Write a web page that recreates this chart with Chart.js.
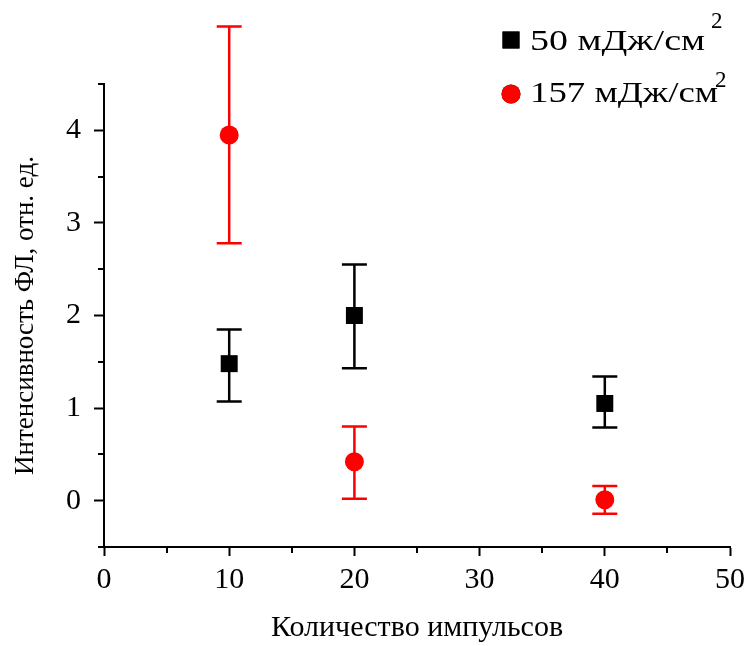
<!DOCTYPE html>
<html>
<head>
<meta charset="utf-8">
<script src="https://cdn.jsdelivr.net/npm/chart.js@4.4.0/dist/chart.umd.min.js"></script>
<style>
  html, body { margin: 0; padding: 0; background: #fff; }
</style>
</head>
<body>
<canvas id="fluChart" width="752" height="646"></canvas>
<script>
// number of pulses
const pulses = [10, 20, 40];

// 50 mJ/cm2 series
const lowVals = [1.48, 2.00, 1.05];
const lowErrMin = [1.07, 1.43, 0.79];
const lowErrMax = [1.85, 2.55, 1.34];

// 157 mJ/cm2 series
const highVals = [3.95, 0.42, 0.01];
const highErrMin = [2.78, 0.02, -0.14];
const highErrMax = [5.12, 0.80, 0.16];

const seriesLabels = ['50 мДж/см', '157 мДж/см'];

const xTicks = [0, 10, 20, 30, 40, 50];
const xMinor = [5, 15, 25, 35, 45];
const yTicks = [0, 1, 2, 3, 4];
const yMinor = [-0.5, 0.5, 1.5, 2.5, 3.5, 4.5];

function toPoints(vals, lo, hi) {
  return pulses.map((x, i) => ({ x: x, y: vals[i], yMin: lo[i], yMax: hi[i] }));
}

// error bars drawn under the markers
const errorBars = {
  id: 'errorBars',
  beforeDatasetsDraw(chart) {
    const ctx = chart.ctx;
    const xs = chart.scales.x, ys = chart.scales.y;
    chart.data.datasets.forEach(ds => {
      ctx.save();
      ctx.strokeStyle = ds.borderColor;
      ctx.lineWidth = 2.5;
      ds.data.forEach(p => {
        const px = xs.getPixelForValue(p.x);
        const top = ys.getPixelForValue(p.yMax);
        const bot = ys.getPixelForValue(p.yMin);
        ctx.beginPath();
        ctx.moveTo(px, top); ctx.lineTo(px, bot);
        ctx.moveTo(px - 12.5, top); ctx.lineTo(px + 12.5, top);
        ctx.moveTo(px - 12.5, bot); ctx.lineTo(px + 12.5, bot);
        ctx.stroke();
      });
      ctx.restore();
    });
  }
};

// minor ticks + legend with superscript
const extras = {
  id: 'extras',
  afterDraw(chart) {
    const ctx = chart.ctx;
    const xs = chart.scales.x, ys = chart.scales.y;
    const area = chart.chartArea;
    ctx.save();
    ctx.strokeStyle = '#000';
    ctx.lineWidth = 2;
    ctx.beginPath();
    xMinor.forEach(v => {
      const px = Math.round(xs.getPixelForValue(v));
      ctx.moveTo(px, area.bottom); ctx.lineTo(px, area.bottom + 6);
    });
    yMinor.forEach(v => {
      const py = Math.round(ys.getPixelForValue(v));
      ctx.moveTo(area.left - 6, py); ctx.lineTo(area.left, py);
    });
    ctx.stroke();

    // legend
    const rowY = [50, 102];
    const markY = [40, 94];
    const textW = [175, 188];
    const supX = [711, 715];
    const supY = [28, 87];
    chart.data.datasets.forEach((ds, i) => {
      Chart.helpers.drawPoint(ctx, {
        pointStyle: ds.pointStyle, radius: ds.pointRadius, rotation: 0, borderWidth: 0
      }, 511, markY[i]);
      ctx.fillStyle = ds.backgroundColor;
      ctx.fill();
      ctx.fillStyle = '#000';
      ctx.font = '29px "Liberation Serif"';
      ctx.textBaseline = 'alphabetic';
      ctx.textAlign = 'left';
      const w = ctx.measureText(seriesLabels[i]).width;
      ctx.save();
      ctx.translate(530, rowY[i]);
      ctx.scale(textW[i] / w, 1);
      ctx.fillText(seriesLabels[i], 0, 0);
      ctx.restore();
      ctx.font = '23px "Liberation Serif"';
      ctx.fillText('2', supX[i], supY[i]);
    });
    ctx.restore();
  }
};

const tickFont = { family: '"Liberation Serif", serif', size: 30 };

new Chart(document.getElementById('fluChart'), {
  type: 'scatter',
  data: {
    datasets: [
      {
        label: seriesLabels[0],
        data: toPoints(lowVals, lowErrMin, lowErrMax),
        backgroundColor: '#000',
        borderColor: '#000',
        borderWidth: 0,
        pointStyle: 'rect',
        pointRadius: 12
      },
      {
        label: seriesLabels[1],
        data: toPoints(highVals, highErrMin, highErrMax),
        backgroundColor: '#ff0000',
        borderColor: '#ff0000',
        borderWidth: 0,
        pointStyle: 'circle',
        pointRadius: 9.5
      }
    ]
  },
  options: {
    responsive: false,
    animation: false,
    devicePixelRatio: 1,
    layout: { padding: { top: 84, right: 22, left: 0, bottom: 0 } },
    plugins: {
      legend: { display: false },
      tooltip: { enabled: false }
    },
    scales: {
      x: {
        type: 'linear',
        min: 0,
        max: 50,
        afterBuildTicks: s => { s.ticks = xTicks.map(v => ({ value: v })); },
        afterFit: s => { s.height = 99; },
        grid: { drawOnChartArea: false, drawTicks: true, tickLength: 9, tickWidth: 2, tickColor: '#000' },
        border: { display: true, color: '#000', width: 2 },
        ticks: { font: tickFont, color: '#000', padding: 6, maxRotation: 0, autoSkip: false },
        title: { display: true, text: 'Количество импульсов', font: { family: '"Liberation Serif", serif', size: 30 }, color: '#000', padding: { top: 0, bottom: 0 } }
      },
      y: {
        type: 'linear',
        min: -0.5,
        max: 4.5,
        afterBuildTicks: s => { s.ticks = yTicks.map(v => ({ value: v })); },
        afterFit: s => { s.width = 104; },
        grid: { drawOnChartArea: false, drawTicks: true, tickLength: 10, tickWidth: 2, tickColor: '#000' },
        border: { display: true, color: '#000', width: 2 },
        ticks: { font: tickFont, color: '#000', padding: 13, autoSkip: false },
        title: { display: true, text: 'Интенсивность ФЛ, отн. ед.', font: { family: '"Liberation Serif", serif', size: 27 }, color: '#000', padding: { top: 10, bottom: 0 } }
      }
    }
  },
  plugins: [errorBars, extras]
});
</script>
</body>
</html>
